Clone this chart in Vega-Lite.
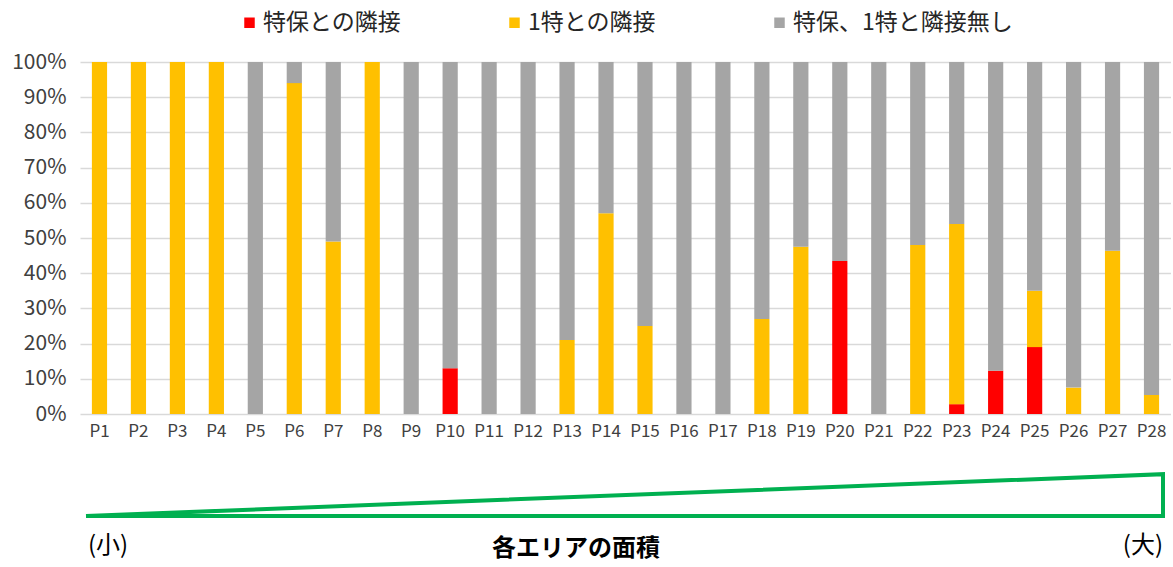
{
  "$schema": "https://vega.github.io/schema/vega-lite/v6.json",
  "padding": {"left": 11, "top": 11, "right": 0, "bottom": 0},
  "background": "white",
  "config": {
    "view": {"stroke": null},
    "font": "Noto Sans CJK JP",
    "legend": {"layout": {"top": {"anchor": "middle"}}}
  },
  "bounds": "flush",
  "spacing": 56,
  "resolve": {"legend": {"color": "independent"}},
  "vconcat": [
    {
      "width": 1091,
      "height": 352,
      "data": {"values": [
        {"area": "P1", "cat": "1特との隣接", "ord": 2, "value": 100},
        {"area": "P2", "cat": "1特との隣接", "ord": 2, "value": 100},
        {"area": "P3", "cat": "1特との隣接", "ord": 2, "value": 100},
        {"area": "P4", "cat": "1特との隣接", "ord": 2, "value": 100},
        {"area": "P5", "cat": "特保、1特と隣接無し", "ord": 3, "value": 100},
        {"area": "P6", "cat": "1特との隣接", "ord": 2, "value": 94},
        {"area": "P6", "cat": "特保、1特と隣接無し", "ord": 3, "value": 6},
        {"area": "P7", "cat": "1特との隣接", "ord": 2, "value": 49},
        {"area": "P7", "cat": "特保、1特と隣接無し", "ord": 3, "value": 51},
        {"area": "P8", "cat": "1特との隣接", "ord": 2, "value": 100},
        {"area": "P9", "cat": "特保、1特と隣接無し", "ord": 3, "value": 100},
        {"area": "P10", "cat": "特保との隣接", "ord": 1, "value": 13},
        {"area": "P10", "cat": "特保、1特と隣接無し", "ord": 3, "value": 87},
        {"area": "P11", "cat": "特保、1特と隣接無し", "ord": 3, "value": 100},
        {"area": "P12", "cat": "特保、1特と隣接無し", "ord": 3, "value": 100},
        {"area": "P13", "cat": "1特との隣接", "ord": 2, "value": 21},
        {"area": "P13", "cat": "特保、1特と隣接無し", "ord": 3, "value": 79},
        {"area": "P14", "cat": "1特との隣接", "ord": 2, "value": 57},
        {"area": "P14", "cat": "特保、1特と隣接無し", "ord": 3, "value": 43},
        {"area": "P15", "cat": "1特との隣接", "ord": 2, "value": 25},
        {"area": "P15", "cat": "特保、1特と隣接無し", "ord": 3, "value": 75},
        {"area": "P16", "cat": "特保、1特と隣接無し", "ord": 3, "value": 100},
        {"area": "P17", "cat": "特保、1特と隣接無し", "ord": 3, "value": 100},
        {"area": "P18", "cat": "1特との隣接", "ord": 2, "value": 27},
        {"area": "P18", "cat": "特保、1特と隣接無し", "ord": 3, "value": 73},
        {"area": "P19", "cat": "1特との隣接", "ord": 2, "value": 47.5},
        {"area": "P19", "cat": "特保、1特と隣接無し", "ord": 3, "value": 52.5},
        {"area": "P20", "cat": "特保との隣接", "ord": 1, "value": 43.5},
        {"area": "P20", "cat": "特保、1特と隣接無し", "ord": 3, "value": 56.5},
        {"area": "P21", "cat": "特保、1特と隣接無し", "ord": 3, "value": 100},
        {"area": "P22", "cat": "1特との隣接", "ord": 2, "value": 48},
        {"area": "P22", "cat": "特保、1特と隣接無し", "ord": 3, "value": 52},
        {"area": "P23", "cat": "特保との隣接", "ord": 1, "value": 2.8},
        {"area": "P23", "cat": "1特との隣接", "ord": 2, "value": 51.2},
        {"area": "P23", "cat": "特保、1特と隣接無し", "ord": 3, "value": 46},
        {"area": "P24", "cat": "特保との隣接", "ord": 1, "value": 12.3},
        {"area": "P24", "cat": "特保、1特と隣接無し", "ord": 3, "value": 87.7},
        {"area": "P25", "cat": "特保との隣接", "ord": 1, "value": 19},
        {"area": "P25", "cat": "1特との隣接", "ord": 2, "value": 16},
        {"area": "P25", "cat": "特保、1特と隣接無し", "ord": 3, "value": 65},
        {"area": "P26", "cat": "1特との隣接", "ord": 2, "value": 7.5},
        {"area": "P26", "cat": "特保、1特と隣接無し", "ord": 3, "value": 92.5},
        {"area": "P27", "cat": "1特との隣接", "ord": 2, "value": 46.4},
        {"area": "P27", "cat": "特保、1特と隣接無し", "ord": 3, "value": 53.6},
        {"area": "P28", "cat": "1特との隣接", "ord": 2, "value": 5.4},
        {"area": "P28", "cat": "特保、1特と隣接無し", "ord": 3, "value": 94.6}
      ]},
      "mark": {"type": "bar"},
      "encoding": {
        "x": {
          "field": "area", "type": "nominal",
          "sort": ["P1","P2","P3","P4","P5","P6","P7","P8","P9","P10","P11","P12","P13","P14","P15","P16","P17","P18","P19","P20","P21","P22","P23","P24","P25","P26","P27","P28"],
          "scale": {"paddingInner": 0.61, "paddingOuter": 0.305},
          "axis": {"title": null, "labelAngle": 0, "labelFontSize": 17, "labelColor": "#404040", "domain": false, "ticks": false, "labelPadding": 9, "grid": false}
        },
        "y": {
          "field": "value", "type": "quantitative", "stack": "normalize",
          "scale": {"domain": [0, 1]},
          "axis": {"title": null, "format": ".0%", "values": [0, 0.1, 0.2, 0.3, 0.4, 0.5, 0.6, 0.7, 0.8, 0.9, 1], "domain": false, "ticks": false, "labelFontSize": 21, "labelColor": "#404040", "labelPadding": 14, "gridColor": "#D9D9D9", "gridWidth": 1.5}
        },
        "color": {
          "field": "cat", "type": "nominal",
          "scale": {"domain": ["特保との隣接", "1特との隣接", "特保、1特と隣接無し"], "range": ["#FF0000", "#FFC000", "#A5A5A5"]},
          "legend": {"title": null, "orient": "top", "direction": "horizontal", "symbolType": "square", "symbolSize": 110, "symbolStrokeWidth": 0, "labelFontSize": 23, "labelLimit": 400, "labelColor": "#262626", "labelOffset": 2, "gridAlign": "all", "columnPadding": 20, "offset": 27}
        },
        "order": {"field": "ord", "type": "quantitative"}
      }
    },
    {
      "width": 1091,
      "height": 92,
      "layer": [
        {
          "data": {"values": [
            {"i": 1, "px": 0, "py": 0},
            {"i": 2, "px": 1, "py": 1},
            {"i": 3, "px": 1, "py": 0},
            {"i": 4, "px": 0, "py": 0}
          ]},
          "mark": {"type": "line", "color": "#00B050", "strokeWidth": 4, "strokeJoin": "miter"},
          "encoding": {
            "x": {"field": "px", "type": "quantitative", "scale": {"domain": [-0.00557, 1.00743], "nice": false, "zero": false}, "axis": null},
            "y": {"field": "py", "type": "quantitative", "scale": {"domain": [-1.1, 1.1], "nice": false, "zero": false}, "axis": null},
            "order": {"field": "i", "type": "quantitative"}
          }
        },
        {
          "data": {"values": [{"label": "(小)", "px": 0, "py": -0.71}]},
          "mark": {"type": "text", "align": "left", "baseline": "middle", "dx": 2, "fontSize": 24, "color": "#000000"},
          "encoding": {
            "x": {"field": "px", "type": "quantitative", "scale": {"domain": [-0.00557, 1.00743], "nice": false, "zero": false}},
            "y": {"field": "py", "type": "quantitative", "scale": {"domain": [-1.1, 1.1], "nice": false, "zero": false}},
            "text": {"field": "label"}
          }
        },
        {
          "data": {"values": [{"label": "(大)", "px": 1, "py": -0.71}]},
          "mark": {"type": "text", "align": "right", "baseline": "middle", "fontSize": 24, "color": "#000000"},
          "encoding": {
            "x": {"field": "px", "type": "quantitative", "scale": {"domain": [-0.00557, 1.00743], "nice": false, "zero": false}},
            "y": {"field": "py", "type": "quantitative", "scale": {"domain": [-1.1, 1.1], "nice": false, "zero": false}},
            "text": {"field": "label"}
          }
        },
        {
          "data": {"values": [{"label": "各エリアの面積", "px": 0.455, "py": -0.79}]},
          "mark": {"type": "text", "align": "center", "baseline": "middle", "fontSize": 24, "fontWeight": "bold", "color": "#000000"},
          "encoding": {
            "x": {"field": "px", "type": "quantitative", "scale": {"domain": [-0.00557, 1.00743], "nice": false, "zero": false}},
            "y": {"field": "py", "type": "quantitative", "scale": {"domain": [-1.1, 1.1], "nice": false, "zero": false}},
            "text": {"field": "label"}
          }
        }
      ]
    }
  ]
}
